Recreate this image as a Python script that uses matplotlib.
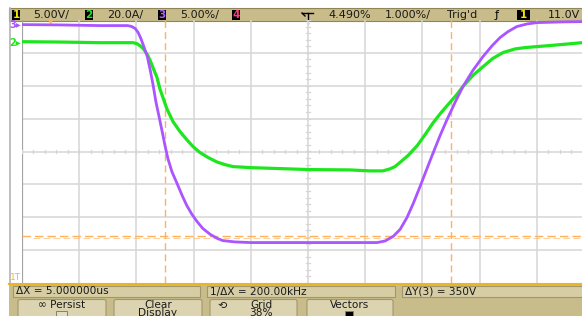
import matplotlib.pyplot as plt
from matplotlib.patches import Rectangle, FancyBboxPatch
import numpy as np

# screen readings: time in divisions from screen centre (1 us/div), level in divisions
ch3_t = [-5.00, -4.34, -3.64, -3.15, -3.08, -3.02, -2.97, -2.92, -2.87, -2.81,
         -2.76, -2.71, -2.66, -2.60, -2.55, -2.50, -2.45, -2.38, -2.29, -2.20,
         -2.12, -2.03, -1.94, -1.84, -1.71, -1.59, -1.49, -1.28, -1.01, -0.14,
         0.73, 1.21, 1.35, 1.49, 1.61, 1.73, 1.84, 1.96, 2.08, 2.19,
         2.31, 2.43, 2.57, 2.71, 2.88, 3.06, 3.22, 3.36, 3.50, 3.65,
         3.83, 4.00, 4.41, 4.79]
ch3_v = [3.86, 3.85, 3.83, 3.83, 3.80, 3.74, 3.62, 3.43, 3.19, 2.89,
         2.49, 2.04, 1.52, 1.03, 0.61, 0.18, -0.21, -0.61, -0.97, -1.34,
         -1.64, -1.91, -2.13, -2.34, -2.52, -2.64, -2.71, -2.75, -2.77, -2.77,
         -2.77, -2.77, -2.72, -2.58, -2.37, -2.01, -1.58, -1.06, -0.52, -0.03,
         0.49, 0.97, 1.49, 1.98, 2.46, 2.89, 3.22, 3.47, 3.65, 3.80,
         3.88, 3.92, 3.94, 3.95]

ch2_t = [-5.00, -4.34, -3.64, -3.06, -2.99, -2.94, -2.88, -2.81, -2.76, -2.71,
         -2.64, -2.59, -2.53, -2.47, -2.36, -2.24, -2.12, -2.01, -1.89, -1.75,
         -1.59, -1.45, -1.31, -1.01, -0.49, 0.03, 0.73, 1.08, 1.31, 1.43,
         1.52, 1.61, 1.75, 1.91, 2.05, 2.19, 2.33, 2.48, 2.60, 2.71,
         2.88, 3.06, 3.23, 3.41, 3.62, 3.79, 4.00, 4.41, 4.79]
ch2_v = [3.34, 3.33, 3.31, 3.31, 3.28, 3.22, 3.13, 2.95, 2.77, 2.55,
         2.25, 1.91, 1.61, 1.31, 0.91, 0.61, 0.36, 0.15, -0.03, -0.18,
         -0.32, -0.40, -0.46, -0.49, -0.52, -0.55, -0.56, -0.59, -0.59, -0.53,
         -0.46, -0.33, -0.12, 0.18, 0.52, 0.88, 1.19, 1.49, 1.73, 1.98,
         2.31, 2.58, 2.83, 3.01, 3.12, 3.16, 3.19, 3.25, 3.31]

cursor_x = [-2.5, 2.5]
cursor_y = -2.58

header = [("1", "5.00V/", "#f2e600", 12, 33),
          ("2", "20.0A/", "#22e622", 85, 107),
          ("3", "5.00%/", "#b060ff", 158, 180),
          ("4", "", "#ff3a7a", 232, 0)]
header_right = [("4.490%", 328), ("1.000%/", 385), ("Trig'd", 447), ("11.0V", 548)]
readouts = [("\u0394X = 5.000000us", 13, 200), ("1/\u0394X = 200.00kHz", 207, 395),
            ("\u0394Y(3) = 350V", 402, 590)]
buttons = [("\u221e Persist", "", 18, 106), ("Clear", "Display", 114, 202),
           ("Grid", "38%", 210, 297), ("Vectors", "", 307, 393)]

purple = "#aa55ff"
green = "#1ee61e"
orange = "#ffb25c"
khaki = "#c8bc8a"
box_fc = "#d6cda4"
edge = "#a2976a"

fig = plt.figure(figsize=(5.82, 3.16), dpi=100)
ui = fig.add_axes([0, 0, 1, 1])
ui.set_xlim(0, 582)
ui.set_ylim(316, 0)
ui.axis("off")

# outer frame line
ui.plot([9.5, 9.5], [8, 284], color="#b4b4b4", lw=1.2)

# header bar
ui.add_patch(Rectangle((9, 8), 580, 13, facecolor=khaki, edgecolor="#8f8557", lw=0.8))
for num, txt, col, bx, tx in header:
    ui.add_patch(Rectangle((bx, 9.5), 8, 10.5, facecolor="black", edgecolor="none"))
    ui.text(bx + 4, 15, num, color=col, fontsize=7.5, ha="center", va="center",
            fontweight="bold")
    if txt:
        ui.text(tx, 15, txt, color="#1a1a1a", fontsize=8, ha="left", va="center")
for txt, tx in header_right:
    ui.text(tx, 15, txt, color="#1a1a1a", fontsize=8, ha="left", va="center")
# delay icon
ui.plot([302, 313], [13, 13], color="black", lw=1.0)
ui.plot([308, 308], [13, 19], color="black", lw=1.0)
ui.plot([302, 305], [13, 16], color="black", lw=1.0)
# trigger slope + source
ui.text(497, 15, "\u0192", color="black", fontsize=8, ha="center", va="center")
ui.add_patch(Rectangle((517, 9.5), 13, 10.5, facecolor="black", edgecolor="none"))
ui.text(523.5, 15, "1", color="#f2e600", fontsize=7.5, ha="center", va="center",
        fontweight="bold")

# markers around the screen
ui.text(51, 22.5, "\u25bc", color=orange, fontsize=5, ha="center", va="center")
ui.text(308, 22.5, "\u2304", color=orange, fontsize=6, ha="center", va="center")
ui.text(15, 25, "3\u25b8", color=purple, fontsize=7, ha="center", va="center",
        fontweight="bold")
ui.text(15, 43, "2\u25b8", color=green, fontsize=7, ha="center", va="center",
        fontweight="bold")
ui.text(16, 277, "1T", color="#f0c000", fontsize=6.5, ha="center", va="center")

# bottom panel
ui.plot([9, 582], [283.5, 283.5], color="#e8b428", lw=1.5)
ui.add_patch(Rectangle((9, 284.5), 580, 40, facecolor=khaki, edgecolor="none"))
for txt, x0, x1 in readouts:
    ui.add_patch(Rectangle((x0, 285.5), x1 - x0, 11.5, facecolor=box_fc,
                           edgecolor=edge, lw=0.8))
    ui.text(x0 + 3, 291.5, txt, color="#1a1a1a", fontsize=7.6, ha="left", va="center")
for top, bottom, x0, x1 in buttons:
    ui.add_patch(FancyBboxPatch((x0, 299.5), x1 - x0, 25,
                                boxstyle="round,pad=0,rounding_size=2",
                                facecolor="#dcd4b0", edgecolor=edge, lw=0.8))
    cx = (x0 + x1) / 2 + (8 if top == "Grid" else 0)
    ui.text(cx, 305, top, color="#1a1a1a", fontsize=7.6, ha="center", va="center")
    if bottom:
        ui.text(cx, 313.5, bottom, color="#1a1a1a", fontsize=7.6, ha="center",
                va="center")
ui.text(222, 306, "\u27f2", color="#1a1a1a", fontsize=8, ha="center", va="center")
ui.add_patch(Rectangle((55.5, 311), 11, 6, facecolor="#e2dcc0", edgecolor="#8a8060", lw=0.7))
ui.add_patch(Rectangle((344.5, 311), 8, 6, facecolor="black", edgecolor="#8a8060", lw=0.7))

# scope screen
ax = fig.add_axes([22 / 582, (316 - 283) / 316, 560 / 582, 263 / 316])
ax.set_xlim(-5, 4.79)
ax.set_ylim(-4, 4)
ax.axis("off")
ax.patch.set_alpha(0)

grid_col = "#d6d6d6"
for gx in range(-4, 5):
    ax.axvline(gx, color=grid_col, lw=1.1, zorder=1)
for gy in range(-3, 4):
    ax.axhline(gy, color=grid_col, lw=1.1, zorder=1)
ax.axvline(-5, color="#a4a4a4", lw=1.6, zorder=1)
for tx in np.arange(-5, 4.8, 0.2):
    ax.plot([tx, tx], [-0.05, 0.05], color=grid_col, lw=0.9, zorder=1)
for ty in np.arange(-4, 4.01, 0.2):
    ax.plot([-0.03, 0.03], [ty, ty], color=grid_col, lw=0.9, zorder=1)

# cursors
for cx in cursor_x:
    ax.axvline(cx, color=orange, lw=1.0, dashes=(5, 3), zorder=2)
ax.axhline(cursor_y, color=orange, lw=1.0, dashes=(6, 3), zorder=2)
ax.plot([-4.8, 4.79], [cursor_y - 0.05] * 2, color=orange, lw=0.8, alpha=0.6,
        dashes=(6, 3), zorder=2)

# traces
ax.plot(ch2_t, ch2_v, color=green, lw=2.3, solid_joinstyle="round", zorder=3)
ax.plot(ch3_t, ch3_v, color=purple, lw=2.0, solid_joinstyle="round", zorder=4)

fig.savefig("out.png", dpi=100)
